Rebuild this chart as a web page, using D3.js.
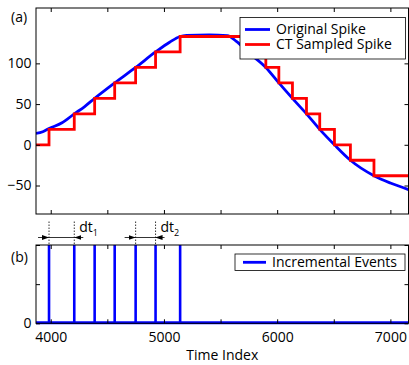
<!DOCTYPE html>
<html>
<head>
<meta charset="utf-8">
<script src="https://cdn.jsdelivr.net/npm/d3@7"></script>
<style>
body { margin: 0; background: #fff; }
text { font-family: "Open Sans", sans-serif; fill: #000; }
.axis path { display: none; }
.axis line { stroke: #000; }
</style>
</head>
<body>
<script>
// original spike (blue)
var origT = [3870, 3930, 3985, 4100, 4208, 4300, 4388, 4565, 4750, 4926, 5050, 5143, 5200, 5400, 5560, 5640, 5741, 5900, 6015, 6135, 6259, 6376, 6506, 6647, 6855, 7000, 7160];
var origV = [14, 16, 20, 27, 38, 47, 57, 76, 95, 114, 126, 133, 134.3, 135, 134, 127, 114, 95, 76, 57, 38, 19, 0, -19, -38, -47, -55];
// CT sampled spike (red step), sample times and held levels
var sampT = [3870, 3985, 4208, 4388, 4565, 4750, 4926, 5143, 5741, 5900, 6015, 6135, 6259, 6376, 6506, 6647, 6855, 7160];
var sampV = [0, 19, 38, 57, 76, 95, 114, 133, 114, 95, 76, 57, 38, 19, 0, -19, -38, -38];
// incremental events
var incT = [3985, 4208, 4388, 4565, 4750, 4926, 5143];

var xTicks = [4000, 4500, 5000, 5500, 6000, 6500, 7000];
var yTicksA = [-50, 0, 50, 100];
var yTicksB = [0, 0.5, 1];

var W = 409, H = 365;
var left = 36, right = 408.5;
var aTop = 8, aBot = 214, bTop = 245, bBot = 323.3;

var svg = d3.select("body").append("svg").attr("width", W).attr("height", H);

var x = d3.scaleLinear().domain([3870, 7160]).range([left, right]);
var yA = d3.scaleLinear().domain([-85, 168]).range([aBot, aTop]);
var yB = d3.scaleLinear().domain([0, 1]).range([bBot, bTop]);

var defs = svg.append("defs");
defs.append("clipPath").attr("id", "clipA").append("rect")
  .attr("x", left).attr("y", aTop).attr("width", right - left).attr("height", aBot - aTop);
defs.append("clipPath").attr("id", "clipB").append("rect")
  .attr("x", left).attr("y", bTop - 2).attr("width", right - left).attr("height", bBot - bTop + 4);
defs.append("marker").attr("id", "arr").attr("viewBox", "0 0 10 10")
  .attr("refX", 10).attr("refY", 5).attr("markerWidth", 7).attr("markerHeight", 7)
  .attr("markerUnits", "userSpaceOnUse").attr("orient", "auto")
  .append("path").attr("d", "M0,1.5L10,5L0,8.5Z").attr("fill", "#000");

// ---- plot (a)
var gA = svg.append("g").attr("clip-path", "url(#clipA)");
var orig = origT.map(function(t, i) { return [t, origV[i]]; });
var samp = sampT.map(function(t, i) { return [t, sampV[i]]; });

gA.append("path").datum(orig)
  .attr("fill", "none").attr("stroke", "#0000ff").attr("stroke-width", 2.8)
  .attr("d", d3.line().x(d => x(d[0])).y(d => yA(d[1])).curve(d3.curveMonotoneX));
gA.append("path").datum(samp)
  .attr("fill", "none").attr("stroke", "#ff0000").attr("stroke-width", 2.8)
  .attr("d", d3.line().x(d => x(d[0])).y(d => yA(d[1])).curve(d3.curveStepAfter));

svg.append("g").attr("class", "axis").attr("transform", "translate(0," + aBot + ")")
  .call(d3.axisBottom(x).tickValues(xTicks).tickSizeInner(-4).tickSizeOuter(0).tickFormat(""));
svg.append("g").attr("class", "axis").attr("transform", "translate(0," + aTop + ")")
  .call(d3.axisTop(x).tickValues(xTicks).tickSizeInner(-4).tickSizeOuter(0).tickFormat(""));
svg.append("g").attr("class", "axis").attr("transform", "translate(" + left + ",0)")
  .call(d3.axisLeft(yA).tickValues(yTicksA).tickSizeInner(-4).tickSizeOuter(0).tickPadding(4.5))
  .selectAll("text").style("font-size", "14px");
svg.append("g").attr("class", "axis").attr("transform", "translate(" + right + ",0)")
  .call(d3.axisRight(yA).tickValues(yTicksA).tickSizeInner(-4).tickSizeOuter(0).tickFormat(""));

svg.append("rect").attr("x", left).attr("y", aTop).attr("width", right - left).attr("height", aBot - aTop)
  .attr("fill", "none").attr("stroke", "#000").attr("stroke-width", 1);

// legend (a)
var lgA = svg.append("g");
lgA.append("rect").attr("x", 240).attr("y", 17.5).attr("width", 165.5).attr("height", 41.5)
  .attr("fill", "#fff").attr("stroke", "#000").attr("stroke-width", 0.8);
[["Original Spike", "#0000ff", 29.5], ["CT Sampled Spike", "#ff0000", 44.5]].forEach(function(e) {
  lgA.append("line").attr("x1", 245).attr("x2", 270).attr("y1", e[2]).attr("y2", e[2])
    .attr("stroke", e[1]).attr("stroke-width", 2.8);
  lgA.append("text").attr("x", 276).attr("y", e[2]).attr("dy", "0.35em")
    .style("font-size", "14px").text(e[0]);
});

// ---- plot (b)
var gB = svg.append("g").attr("clip-path", "url(#clipB)");
gB.selectAll("line.ev").data(incT).enter().append("line")
  .attr("x1", d => x(d)).attr("x2", d => x(d))
  .attr("y1", yB(0)).attr("y2", yB(1))
  .attr("stroke", "#0000ff").attr("stroke-width", 2.6);
gB.append("line").attr("x1", left).attr("x2", right).attr("y1", yB(0) - 0.5).attr("y2", yB(0) - 0.5)
  .attr("stroke", "#0000ff").attr("stroke-width", 3);

svg.append("g").attr("class", "axis").attr("transform", "translate(0," + bBot + ")")
  .call(d3.axisBottom(x).tickValues(xTicks).tickSizeInner(-4).tickSizeOuter(0).tickPadding(8.5)
    .tickFormat(d => d % 1000 === 0 ? d : ""))
  .selectAll("text").style("font-size", "14px");
svg.append("g").attr("class", "axis").attr("transform", "translate(0," + bTop + ")")
  .call(d3.axisTop(x).tickValues(xTicks).tickSizeInner(-4).tickSizeOuter(0).tickFormat(""));
svg.append("g").attr("class", "axis").attr("transform", "translate(" + left + ",0)")
  .call(d3.axisLeft(yB).tickValues(yTicksB).tickSizeInner(-4).tickSizeOuter(0).tickPadding(4.5)
    .tickFormat(d => d === 0 ? "0" : ""))
  .selectAll("text").style("font-size", "14px");
svg.append("g").attr("class", "axis").attr("transform", "translate(" + right + ",0)")
  .call(d3.axisRight(yB).tickValues(yTicksB).tickSizeInner(-4).tickSizeOuter(0).tickFormat(""));

svg.append("rect").attr("x", left).attr("y", bTop).attr("width", right - left).attr("height", bBot - bTop)
  .attr("fill", "none").attr("stroke", "#000").attr("stroke-width", 1);

// legend (b)
var lgB = svg.append("g");
lgB.append("rect").attr("x", 235).attr("y", 254).attr("width", 170).attr("height", 16.5)
  .attr("fill", "#fff").attr("stroke", "#000").attr("stroke-width", 0.8);
lgB.append("line").attr("x1", 243).attr("x2", 266).attr("y1", 262.3).attr("y2", 262.3)
  .attr("stroke", "#0000ff").attr("stroke-width", 2.8);
lgB.append("text").attr("x", 272).attr("y", 262.3).attr("dy", "0.35em")
  .style("font-size", "14px").text("Incremental Events");

// dt annotations between the plots
var dts = [[0, 1, "1"], [4, 5, "2"]];
dts.forEach(function(d) {
  var xa = x(incT[d[0]]), xb = x(incT[d[1]]);
  [xa, xb].forEach(function(xx) {
    svg.append("line").attr("x1", xx).attr("x2", xx).attr("y1", 221.5).attr("y2", bTop)
      .attr("stroke", "#000").attr("stroke-width", 0.8).attr("stroke-dasharray", "1.5,1.5");
  });
  svg.append("line").attr("x1", xa).attr("x2", xb).attr("y1", 237.5).attr("y2", 237.5)
    .attr("stroke", "#000").attr("stroke-width", 0.8);
  svg.append("line").attr("x1", xa - 11).attr("x2", xa).attr("y1", 237.5).attr("y2", 237.5)
    .attr("stroke", "#000").attr("stroke-width", 0.8).attr("marker-end", "url(#arr)");
  svg.append("line").attr("x1", xb + 9).attr("x2", xb).attr("y1", 237.5).attr("y2", 237.5)
    .attr("stroke", "#000").attr("stroke-width", 0.8).attr("marker-end", "url(#arr)");
  var t = svg.append("text").attr("x", xb + 5).attr("y", 231.5).style("font-size", "14px");
  t.append("tspan").text("dt");
  t.append("tspan").attr("dy", 4).style("font-size", "9px").text(d[2]);
});

// panel labels and axis title
svg.append("text").attr("x", 11).attr("y", 22).style("font-size", "14px").text("(a)");
svg.append("text").attr("x", 11).attr("y", 261.5).style("font-size", "14px").text("(b)");
svg.append("text").attr("x", (left + right) / 2).attr("y", 360).attr("text-anchor", "middle")
  .style("font-size", "14px").text("Time Index");
</script>
</body>
</html>
